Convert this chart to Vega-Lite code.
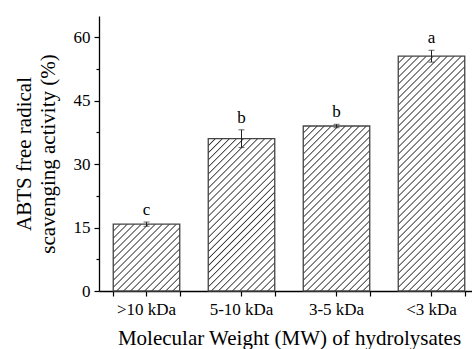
{
  "$schema": "https://vega.github.io/schema/vega-lite/v6.json",
  "width": 380,
  "height": 275,
  "autosize": {"type": "none"},
  "padding": {"left": 99, "top": 16, "right": 0, "bottom": 58},
  "config": {
    "view": {"stroke": null},
    "font": "Liberation Serif",
    "axis": {"grid": false, "domainColor": "#000", "domainWidth": 1.3, "tickColor": "#000", "tickWidth": 1.2, "labelColor": "#000", "titleColor": "#000", "labelFont": "Liberation Serif", "titleFont": "Liberation Serif", "titleFontWeight": "normal"}
  },
  "data": {"values": [
    {"mw": ">10 kDa", "v": 15.8, "err": 0.5, "sig": "c"},
    {"mw": "5-10 kDa", "v": 36.0, "err": 2.1, "sig": "b"},
    {"mw": "3-5 kDa", "v": 39.0, "err": 0.4, "sig": "b"},
    {"mw": "<3 kDa", "v": 55.5, "err": 1.4, "sig": "a"}
  ]},
  "resolve": {"axis": {"x": "independent", "y": "independent"}},
  "layer": [
    {
      "mark": {"type": "bar", "stroke": "#444", "strokeWidth": 1.3},
      "encoding": {
        "x": {"field": "mw", "type": "nominal", "sort": null,
          "scale": {"paddingInner": 0.3, "paddingOuter": 0.15},
          "axis": {"orient": "bottom", "title": "Molecular Weight (MW) of hydrolysates", "titleFontSize": 21, "titlePadding": 10, "labelFontSize": 17, "labelAngle": 0, "tickSize": 5, "labelPadding": 5}},
        "y": {"field": "v", "type": "quantitative", "scale": {"domain": [0, 65], "nice": false},
          "axis": {"orient": "left", "values": [0, 7.5, 15, 22.5, 30, 37.5, 45, 52.5, 60], "labelExpr": "datum.value % 15 === 0 ? datum.label : ''",
            "tickSize": {"condition": {"test": "datum.value % 15 === 0", "value": 5}, "value": 3},
            "labelFontSize": 17, "labelPadding": 4,
            "title": ["ABTS free radical", "scavenging activity (%)"], "titleFontSize": 21, "titleLineHeight": 24, "titlePadding": 15}},
        "fill": {
          "condition": [
            {"test": "datum.mw === '>10 kDa'", "value": {"gradient": "linear", "x1": 0, "y1": 0, "x2": 0.9974, "y2": 1.0026, "stops": [
              {"offset": 0, "color": "#fff"},
              {"offset": 0.0436, "color": "#fff"}, {"offset": 0.0526, "color": "#333"}, {"offset": 0.0616, "color": "#fff"},
              {"offset": 0.0963, "color": "#fff"}, {"offset": 0.1053, "color": "#333"}, {"offset": 0.1143, "color": "#fff"},
              {"offset": 0.1489, "color": "#fff"}, {"offset": 0.1579, "color": "#333"}, {"offset": 0.1669, "color": "#fff"},
              {"offset": 0.2015, "color": "#fff"}, {"offset": 0.2105, "color": "#333"}, {"offset": 0.2195, "color": "#fff"},
              {"offset": 0.2542, "color": "#fff"}, {"offset": 0.2632, "color": "#333"}, {"offset": 0.2722, "color": "#fff"},
              {"offset": 0.3068, "color": "#fff"}, {"offset": 0.3158, "color": "#333"}, {"offset": 0.3248, "color": "#fff"},
              {"offset": 0.3594, "color": "#fff"}, {"offset": 0.3684, "color": "#333"}, {"offset": 0.3774, "color": "#fff"},
              {"offset": 0.4121, "color": "#fff"}, {"offset": 0.4211, "color": "#333"}, {"offset": 0.4301, "color": "#fff"},
              {"offset": 0.4647, "color": "#fff"}, {"offset": 0.4737, "color": "#333"}, {"offset": 0.4827, "color": "#fff"},
              {"offset": 0.5173, "color": "#fff"}, {"offset": 0.5263, "color": "#333"}, {"offset": 0.5353, "color": "#fff"},
              {"offset": 0.5699, "color": "#fff"}, {"offset": 0.5789, "color": "#333"}, {"offset": 0.5879, "color": "#fff"},
              {"offset": 0.6226, "color": "#fff"}, {"offset": 0.6316, "color": "#333"}, {"offset": 0.6406, "color": "#fff"},
              {"offset": 0.6752, "color": "#fff"}, {"offset": 0.6842, "color": "#333"}, {"offset": 0.6932, "color": "#fff"},
              {"offset": 0.7278, "color": "#fff"}, {"offset": 0.7368, "color": "#333"}, {"offset": 0.7458, "color": "#fff"},
              {"offset": 0.7805, "color": "#fff"}, {"offset": 0.7895, "color": "#333"}, {"offset": 0.7985, "color": "#fff"},
              {"offset": 0.8331, "color": "#fff"}, {"offset": 0.8421, "color": "#333"}, {"offset": 0.8511, "color": "#fff"},
              {"offset": 0.8857, "color": "#fff"}, {"offset": 0.8947, "color": "#333"}, {"offset": 0.9037, "color": "#fff"},
              {"offset": 0.9384, "color": "#fff"}, {"offset": 0.9474, "color": "#333"}, {"offset": 0.9564, "color": "#fff"},
              {"offset": 1, "color": "#fff"}
            ]}},
            {"test": "datum.mw === '5-10 kDa'", "value": {"gradient": "linear", "x1": 0, "y1": 0, "x2": 0.5268, "y2": 1.2066, "stops": [
              {"offset": 0, "color": "#fff"},
              {"offset": 0.0268, "color": "#fff"}, {"offset": 0.0323, "color": "#333"}, {"offset": 0.0378, "color": "#fff"},
              {"offset": 0.0590, "color": "#fff"}, {"offset": 0.0645, "color": "#333"}, {"offset": 0.0700, "color": "#fff"},
              {"offset": 0.0913, "color": "#fff"}, {"offset": 0.0968, "color": "#333"}, {"offset": 0.1023, "color": "#fff"},
              {"offset": 0.1235, "color": "#fff"}, {"offset": 0.1290, "color": "#333"}, {"offset": 0.1345, "color": "#fff"},
              {"offset": 0.1558, "color": "#fff"}, {"offset": 0.1613, "color": "#333"}, {"offset": 0.1668, "color": "#fff"},
              {"offset": 0.1880, "color": "#fff"}, {"offset": 0.1935, "color": "#333"}, {"offset": 0.1990, "color": "#fff"},
              {"offset": 0.2203, "color": "#fff"}, {"offset": 0.2258, "color": "#333"}, {"offset": 0.2313, "color": "#fff"},
              {"offset": 0.2526, "color": "#fff"}, {"offset": 0.2581, "color": "#333"}, {"offset": 0.2636, "color": "#fff"},
              {"offset": 0.2848, "color": "#fff"}, {"offset": 0.2903, "color": "#333"}, {"offset": 0.2958, "color": "#fff"},
              {"offset": 0.3171, "color": "#fff"}, {"offset": 0.3226, "color": "#333"}, {"offset": 0.3281, "color": "#fff"},
              {"offset": 0.3493, "color": "#fff"}, {"offset": 0.3548, "color": "#333"}, {"offset": 0.3603, "color": "#fff"},
              {"offset": 0.3816, "color": "#fff"}, {"offset": 0.3871, "color": "#333"}, {"offset": 0.3926, "color": "#fff"},
              {"offset": 0.4139, "color": "#fff"}, {"offset": 0.4194, "color": "#333"}, {"offset": 0.4249, "color": "#fff"},
              {"offset": 0.4461, "color": "#fff"}, {"offset": 0.4516, "color": "#333"}, {"offset": 0.4571, "color": "#fff"},
              {"offset": 0.4784, "color": "#fff"}, {"offset": 0.4839, "color": "#333"}, {"offset": 0.4894, "color": "#fff"},
              {"offset": 0.5106, "color": "#fff"}, {"offset": 0.5161, "color": "#333"}, {"offset": 0.5216, "color": "#fff"},
              {"offset": 0.5429, "color": "#fff"}, {"offset": 0.5484, "color": "#333"}, {"offset": 0.5539, "color": "#fff"},
              {"offset": 0.5751, "color": "#fff"}, {"offset": 0.5806, "color": "#333"}, {"offset": 0.5861, "color": "#fff"},
              {"offset": 0.6074, "color": "#fff"}, {"offset": 0.6129, "color": "#333"}, {"offset": 0.6184, "color": "#fff"},
              {"offset": 0.6397, "color": "#fff"}, {"offset": 0.6452, "color": "#333"}, {"offset": 0.6507, "color": "#fff"},
              {"offset": 0.6719, "color": "#fff"}, {"offset": 0.6774, "color": "#333"}, {"offset": 0.6829, "color": "#fff"},
              {"offset": 0.7042, "color": "#fff"}, {"offset": 0.7097, "color": "#333"}, {"offset": 0.7152, "color": "#fff"},
              {"offset": 0.7364, "color": "#fff"}, {"offset": 0.7419, "color": "#333"}, {"offset": 0.7474, "color": "#fff"},
              {"offset": 0.7687, "color": "#fff"}, {"offset": 0.7742, "color": "#333"}, {"offset": 0.7797, "color": "#fff"},
              {"offset": 0.8010, "color": "#fff"}, {"offset": 0.8065, "color": "#333"}, {"offset": 0.8120, "color": "#fff"},
              {"offset": 0.8332, "color": "#fff"}, {"offset": 0.8387, "color": "#333"}, {"offset": 0.8442, "color": "#fff"},
              {"offset": 0.8655, "color": "#fff"}, {"offset": 0.8710, "color": "#333"}, {"offset": 0.8765, "color": "#fff"},
              {"offset": 0.8977, "color": "#fff"}, {"offset": 0.9032, "color": "#333"}, {"offset": 0.9087, "color": "#fff"},
              {"offset": 0.9300, "color": "#fff"}, {"offset": 0.9355, "color": "#333"}, {"offset": 0.9410, "color": "#fff"},
              {"offset": 0.9622, "color": "#fff"}, {"offset": 0.9677, "color": "#333"}, {"offset": 0.9732, "color": "#fff"},
              {"offset": 1, "color": "#fff"}
            ]}},
            {"test": "datum.mw === '3-5 kDa'", "value": {"gradient": "linear", "x1": 0, "y1": 0, "x2": 0.4864, "y2": 1.2070, "stops": [
              {"offset": 0, "color": "#fff"},
              {"offset": 0.0251, "color": "#fff"}, {"offset": 0.0303, "color": "#333"}, {"offset": 0.0355, "color": "#fff"},
              {"offset": 0.0554, "color": "#fff"}, {"offset": 0.0606, "color": "#333"}, {"offset": 0.0658, "color": "#fff"},
              {"offset": 0.0857, "color": "#fff"}, {"offset": 0.0909, "color": "#333"}, {"offset": 0.0961, "color": "#fff"},
              {"offset": 0.1160, "color": "#fff"}, {"offset": 0.1212, "color": "#333"}, {"offset": 0.1264, "color": "#fff"},
              {"offset": 0.1463, "color": "#fff"}, {"offset": 0.1515, "color": "#333"}, {"offset": 0.1567, "color": "#fff"},
              {"offset": 0.1766, "color": "#fff"}, {"offset": 0.1818, "color": "#333"}, {"offset": 0.1870, "color": "#fff"},
              {"offset": 0.2069, "color": "#fff"}, {"offset": 0.2121, "color": "#333"}, {"offset": 0.2173, "color": "#fff"},
              {"offset": 0.2372, "color": "#fff"}, {"offset": 0.2424, "color": "#333"}, {"offset": 0.2476, "color": "#fff"},
              {"offset": 0.2675, "color": "#fff"}, {"offset": 0.2727, "color": "#333"}, {"offset": 0.2779, "color": "#fff"},
              {"offset": 0.2978, "color": "#fff"}, {"offset": 0.3030, "color": "#333"}, {"offset": 0.3082, "color": "#fff"},
              {"offset": 0.3281, "color": "#fff"}, {"offset": 0.3333, "color": "#333"}, {"offset": 0.3385, "color": "#fff"},
              {"offset": 0.3584, "color": "#fff"}, {"offset": 0.3636, "color": "#333"}, {"offset": 0.3688, "color": "#fff"},
              {"offset": 0.3887, "color": "#fff"}, {"offset": 0.3939, "color": "#333"}, {"offset": 0.3991, "color": "#fff"},
              {"offset": 0.4190, "color": "#fff"}, {"offset": 0.4242, "color": "#333"}, {"offset": 0.4294, "color": "#fff"},
              {"offset": 0.4493, "color": "#fff"}, {"offset": 0.4545, "color": "#333"}, {"offset": 0.4597, "color": "#fff"},
              {"offset": 0.4796, "color": "#fff"}, {"offset": 0.4848, "color": "#333"}, {"offset": 0.4900, "color": "#fff"},
              {"offset": 0.5100, "color": "#fff"}, {"offset": 0.5152, "color": "#333"}, {"offset": 0.5204, "color": "#fff"},
              {"offset": 0.5403, "color": "#fff"}, {"offset": 0.5455, "color": "#333"}, {"offset": 0.5507, "color": "#fff"},
              {"offset": 0.5706, "color": "#fff"}, {"offset": 0.5758, "color": "#333"}, {"offset": 0.5810, "color": "#fff"},
              {"offset": 0.6009, "color": "#fff"}, {"offset": 0.6061, "color": "#333"}, {"offset": 0.6113, "color": "#fff"},
              {"offset": 0.6312, "color": "#fff"}, {"offset": 0.6364, "color": "#333"}, {"offset": 0.6416, "color": "#fff"},
              {"offset": 0.6615, "color": "#fff"}, {"offset": 0.6667, "color": "#333"}, {"offset": 0.6719, "color": "#fff"},
              {"offset": 0.6918, "color": "#fff"}, {"offset": 0.6970, "color": "#333"}, {"offset": 0.7022, "color": "#fff"},
              {"offset": 0.7221, "color": "#fff"}, {"offset": 0.7273, "color": "#333"}, {"offset": 0.7325, "color": "#fff"},
              {"offset": 0.7524, "color": "#fff"}, {"offset": 0.7576, "color": "#333"}, {"offset": 0.7628, "color": "#fff"},
              {"offset": 0.7827, "color": "#fff"}, {"offset": 0.7879, "color": "#333"}, {"offset": 0.7931, "color": "#fff"},
              {"offset": 0.8130, "color": "#fff"}, {"offset": 0.8182, "color": "#333"}, {"offset": 0.8234, "color": "#fff"},
              {"offset": 0.8433, "color": "#fff"}, {"offset": 0.8485, "color": "#333"}, {"offset": 0.8537, "color": "#fff"},
              {"offset": 0.8736, "color": "#fff"}, {"offset": 0.8788, "color": "#333"}, {"offset": 0.8840, "color": "#fff"},
              {"offset": 0.9039, "color": "#fff"}, {"offset": 0.9091, "color": "#333"}, {"offset": 0.9143, "color": "#fff"},
              {"offset": 0.9342, "color": "#fff"}, {"offset": 0.9394, "color": "#333"}, {"offset": 0.9446, "color": "#fff"},
              {"offset": 0.9645, "color": "#fff"}, {"offset": 0.9697, "color": "#333"}, {"offset": 0.9749, "color": "#fff"},
              {"offset": 1, "color": "#fff"}
            ]}}
          ],
          "value": {"gradient": "linear", "x1": 0, "y1": 0, "x2": 0.3364, "y2": 1.1879, "stops": [
            {"offset": 0, "color": "#fff"},
            {"offset": 0.0193, "color": "#fff"}, {"offset": 0.0233, "color": "#333"}, {"offset": 0.0273, "color": "#fff"},
            {"offset": 0.0425, "color": "#fff"}, {"offset": 0.0465, "color": "#333"}, {"offset": 0.0505, "color": "#fff"},
            {"offset": 0.0658, "color": "#fff"}, {"offset": 0.0698, "color": "#333"}, {"offset": 0.0738, "color": "#fff"},
            {"offset": 0.0890, "color": "#fff"}, {"offset": 0.0930, "color": "#333"}, {"offset": 0.0970, "color": "#fff"},
            {"offset": 0.1123, "color": "#fff"}, {"offset": 0.1163, "color": "#333"}, {"offset": 0.1203, "color": "#fff"},
            {"offset": 0.1355, "color": "#fff"}, {"offset": 0.1395, "color": "#333"}, {"offset": 0.1435, "color": "#fff"},
            {"offset": 0.1588, "color": "#fff"}, {"offset": 0.1628, "color": "#333"}, {"offset": 0.1668, "color": "#fff"},
            {"offset": 0.1820, "color": "#fff"}, {"offset": 0.1860, "color": "#333"}, {"offset": 0.1900, "color": "#fff"},
            {"offset": 0.2053, "color": "#fff"}, {"offset": 0.2093, "color": "#333"}, {"offset": 0.2133, "color": "#fff"},
            {"offset": 0.2286, "color": "#fff"}, {"offset": 0.2326, "color": "#333"}, {"offset": 0.2366, "color": "#fff"},
            {"offset": 0.2518, "color": "#fff"}, {"offset": 0.2558, "color": "#333"}, {"offset": 0.2598, "color": "#fff"},
            {"offset": 0.2751, "color": "#fff"}, {"offset": 0.2791, "color": "#333"}, {"offset": 0.2831, "color": "#fff"},
            {"offset": 0.2983, "color": "#fff"}, {"offset": 0.3023, "color": "#333"}, {"offset": 0.3063, "color": "#fff"},
            {"offset": 0.3216, "color": "#fff"}, {"offset": 0.3256, "color": "#333"}, {"offset": 0.3296, "color": "#fff"},
            {"offset": 0.3448, "color": "#fff"}, {"offset": 0.3488, "color": "#333"}, {"offset": 0.3528, "color": "#fff"},
            {"offset": 0.3681, "color": "#fff"}, {"offset": 0.3721, "color": "#333"}, {"offset": 0.3761, "color": "#fff"},
            {"offset": 0.3913, "color": "#fff"}, {"offset": 0.3953, "color": "#333"}, {"offset": 0.3993, "color": "#fff"},
            {"offset": 0.4146, "color": "#fff"}, {"offset": 0.4186, "color": "#333"}, {"offset": 0.4226, "color": "#fff"},
            {"offset": 0.4379, "color": "#fff"}, {"offset": 0.4419, "color": "#333"}, {"offset": 0.4459, "color": "#fff"},
            {"offset": 0.4611, "color": "#fff"}, {"offset": 0.4651, "color": "#333"}, {"offset": 0.4691, "color": "#fff"},
            {"offset": 0.4844, "color": "#fff"}, {"offset": 0.4884, "color": "#333"}, {"offset": 0.4924, "color": "#fff"},
            {"offset": 0.5076, "color": "#fff"}, {"offset": 0.5116, "color": "#333"}, {"offset": 0.5156, "color": "#fff"},
            {"offset": 0.5309, "color": "#fff"}, {"offset": 0.5349, "color": "#333"}, {"offset": 0.5389, "color": "#fff"},
            {"offset": 0.5541, "color": "#fff"}, {"offset": 0.5581, "color": "#333"}, {"offset": 0.5621, "color": "#fff"},
            {"offset": 0.5774, "color": "#fff"}, {"offset": 0.5814, "color": "#333"}, {"offset": 0.5854, "color": "#fff"},
            {"offset": 0.6007, "color": "#fff"}, {"offset": 0.6047, "color": "#333"}, {"offset": 0.6087, "color": "#fff"},
            {"offset": 0.6239, "color": "#fff"}, {"offset": 0.6279, "color": "#333"}, {"offset": 0.6319, "color": "#fff"},
            {"offset": 0.6472, "color": "#fff"}, {"offset": 0.6512, "color": "#333"}, {"offset": 0.6552, "color": "#fff"},
            {"offset": 0.6704, "color": "#fff"}, {"offset": 0.6744, "color": "#333"}, {"offset": 0.6784, "color": "#fff"},
            {"offset": 0.6937, "color": "#fff"}, {"offset": 0.6977, "color": "#333"}, {"offset": 0.7017, "color": "#fff"},
            {"offset": 0.7169, "color": "#fff"}, {"offset": 0.7209, "color": "#333"}, {"offset": 0.7249, "color": "#fff"},
            {"offset": 0.7402, "color": "#fff"}, {"offset": 0.7442, "color": "#333"}, {"offset": 0.7482, "color": "#fff"},
            {"offset": 0.7634, "color": "#fff"}, {"offset": 0.7674, "color": "#333"}, {"offset": 0.7714, "color": "#fff"},
            {"offset": 0.7867, "color": "#fff"}, {"offset": 0.7907, "color": "#333"}, {"offset": 0.7947, "color": "#fff"},
            {"offset": 0.8100, "color": "#fff"}, {"offset": 0.8140, "color": "#333"}, {"offset": 0.8180, "color": "#fff"},
            {"offset": 0.8332, "color": "#fff"}, {"offset": 0.8372, "color": "#333"}, {"offset": 0.8412, "color": "#fff"},
            {"offset": 0.8565, "color": "#fff"}, {"offset": 0.8605, "color": "#333"}, {"offset": 0.8645, "color": "#fff"},
            {"offset": 0.8797, "color": "#fff"}, {"offset": 0.8837, "color": "#333"}, {"offset": 0.8877, "color": "#fff"},
            {"offset": 0.9030, "color": "#fff"}, {"offset": 0.9070, "color": "#333"}, {"offset": 0.9110, "color": "#fff"},
            {"offset": 0.9262, "color": "#fff"}, {"offset": 0.9302, "color": "#333"}, {"offset": 0.9342, "color": "#fff"},
            {"offset": 0.9495, "color": "#fff"}, {"offset": 0.9535, "color": "#333"}, {"offset": 0.9575, "color": "#fff"},
            {"offset": 0.9727, "color": "#fff"}, {"offset": 0.9767, "color": "#333"}, {"offset": 0.9807, "color": "#fff"},
            {"offset": 1, "color": "#fff"}
          ]}
        }
      }
    },
    {
      "mark": {"type": "errorbar", "ticks": {"size": 6, "color": "#222"}, "rule": {"color": "#222"}},
      "encoding": {
        "x": {"field": "mw", "type": "nominal", "sort": null,
          "axis": {"orient": "bottom", "tickBand": "extent", "labels": false, "title": null, "domain": false, "tickSize": 5}},
        "y": {"field": "v", "type": "quantitative", "axis": null},
        "yError": {"field": "err"}
      }
    },
    {
      "transform": [{"calculate": "datum.v + datum.err", "as": "top"}],
      "mark": {"type": "text", "font": "Liberation Serif", "fontSize": 17, "baseline": "alphabetic", "dy": -7, "color": "#000"},
      "encoding": {
        "x": {"field": "mw", "type": "nominal", "sort": null, "axis": null},
        "y": {"field": "top", "type": "quantitative", "axis": null},
        "text": {"field": "sig"}
      }
    }
  ]
}
